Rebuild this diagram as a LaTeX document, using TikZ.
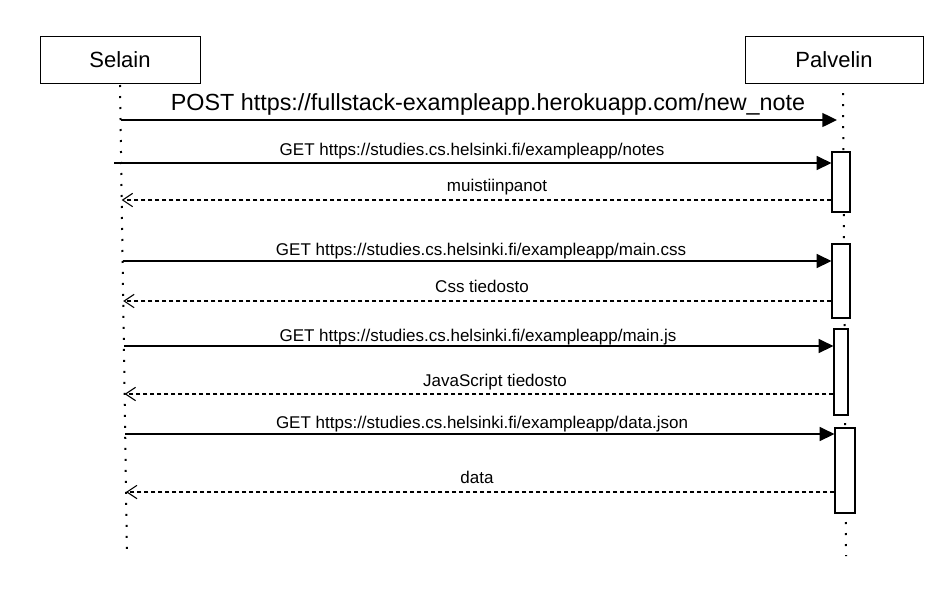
\documentclass[tikz,border=0pt]{standalone}
\usepackage{fontspec}
\setmainfont{Liberation Sans}
\usetikzlibrary{arrows.meta}

\tikzset{
	party/.style={draw, line width=0.75pt, fill=white, minimum width=120pt, minimum height=35.25pt, font=\fontsize{16.5}{19}\selectfont},
	actbox/.style={draw, line width=0.9pt, fill=white, inner sep=0pt},
	lifeline/.style={line width=1.5pt, dash pattern=on 1.5pt off 6.75pt},
	req/.style={line width=1pt, -{Triangle[length=11pt,width=10.5pt]}},
	ret/.style={line width=0.8pt, dash pattern=on 3pt off 2.25pt, -{Straight Barb[length=7.5pt,width=10pt,line width=0.8pt]}},
	msg/.style={anchor=base, inner sep=0.75pt, font=\fontsize{12.75}{15}\selectfont}
}

\begin{document}
\begin{tikzpicture}[x=0.75pt,y=0.75pt,yscale=-1,xscale=1]
	\useasboundingbox (0,0) rectangle (952,608);
	% osapuolet
	\node [party] (selain) at (120,59.5) {Selain};
	\node [party, minimum width=133.5pt] (palvelin) at (834,59.5) {Palvelin};
	% elinviivat
	\coordinate (s0) at (120,85);
	\coordinate (s9) at (127,556);
	\coordinate (p0) at (843,93);
	\coordinate (p9) at (846,556);
	\draw [lifeline] (s0) -- (s9);
	\draw [lifeline] (p0) -- (p9);
	% aktivaatiot
	\node [actbox, minimum width=13.5pt, minimum height=45pt] (a1) at (841,182) {};
	\node [actbox, minimum width=13.5pt, minimum height=55.5pt] (a2) at (841,281) {};
	\node [actbox, minimum width=10.5pt, minimum height=64.5pt] (a3) at (841,372) {};
	\node [actbox, minimum width=15pt, minimum height=63.75pt] (a4) at (845,470.5) {};
	% viestien pisteet selaimen puolella
	\coordinate (m1) at (120.5,120);
	\coordinate (m2) at (114,163);
	\coordinate (m3) at (121.7,200);
	\coordinate (m4) at (122.6,261);
	\coordinate (m5) at (123.2,301);
	\coordinate (m6) at (123.9,346);
	\coordinate (m7) at (124.6,394);
	\coordinate (m8) at (125.2,434);
	\coordinate (m9) at (126,492);
	\coordinate (pt) at (837,120);
	% viestit
	\draw [req] (m1) -- (pt);
	\draw [req] (m2) -- (m2 -| a1.west);
	\draw [ret] (m3 -| a1.west) -- (m3);
	\draw [req] (m4) -- (m4 -| a2.west);
	\draw [ret] (m5 -| a2.west) -- (m5);
	\draw [req] (m6) -- (m6 -| a3.west);
	\draw [ret] (m7 -| a3.west) -- (m7);
	\draw [req] (m8) -- (m8 -| a4.west);
	\draw [ret] (m9 -| a4.west) -- (m9);
	% tekstit
	\draw (488,110) node [anchor=base][inner sep=0.75pt][font=\fontsize{17.5}{20}\selectfont] {POST https://fullstack-exampleapp.herokuapp.com/new\_note};
	\draw (472,155) node [msg] {GET https://studies.cs.helsinki.fi/exampleapp/notes};
	\draw (497,191) node [msg] {muistiinpanot};
	\draw (481,255) node [msg] {GET https://studies.cs.helsinki.fi/exampleapp/main.css};
	\draw (482,292) node [msg] {Css tiedosto};
	\draw (478,341) node [msg] {GET https://studies.cs.helsinki.fi/exampleapp/main.js};
	\draw (495,386) node [msg] {JavaScript tiedosto};
	\draw (482,428) node [msg] {GET https://studies.cs.helsinki.fi/exampleapp/data.json};
	\draw (477,483) node [msg] {data};
\end{tikzpicture}
\end{document}
